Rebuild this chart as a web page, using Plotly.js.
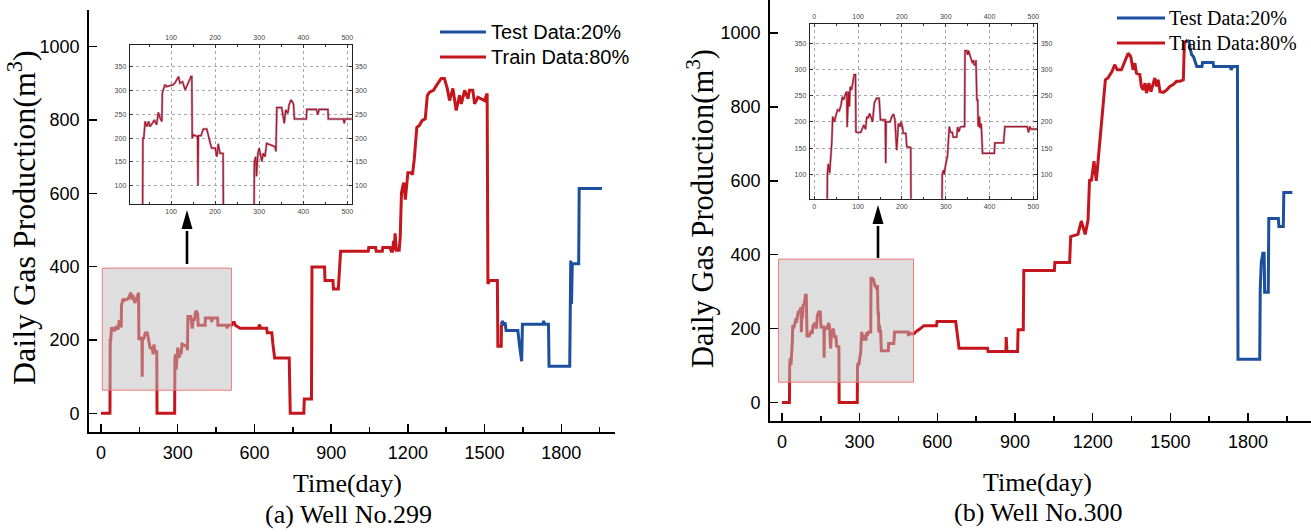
<!DOCTYPE html>
<html>
<head>
<meta charset="utf-8">
<script src="https://cdn.plot.ly/plotly-3.0.1.min.js"></script>
<style>html,body{margin:0;padding:0;background:#fff;}#chart{width:1311px;height:532px;}</style>
</head>
<body>
<div id="chart"></div>
<script>
// ---------- DATA ----------
// Well No.299
const d299Train = [0,35,36,38,41,45,49,52,58,62,67,71,75,79,80,86,90,98,105,109,117,120,126,132,138,145,147,148,151,158,160,161,162,168,173,181,185,189,192,200,204,207,211,215,218,219,288,289,292,294,297,300,303,306,309,313,317,325,336,338,340,351,353,357,360,365,368,372,376,378,380,407,408,430,433,436,456,457,491,493,495,510,517,521,525,544,615,620,624,648,650,668,672,679,736,738,740,793,795,823,825,874,876,907,909,928,937,1045,1047,1074,1076,1100,1102,1130,1135,1140,1144,1147,1150,1155,1166,1170,1175,1180,1184,1190,1195,1200,1213,1218,1225,1235,1245,1255,1268,1276,1285,1300,1317,1330,1343,1354,1363,1376,1389,1402,1409,1422,1435,1441,1454,1461,1474,1487,1500,1510,1513,1520,1550,1552,1565,1566];
const v299Train = [0,0,200,200,235,224,235,224,232,238,228,254,242,235,294,312,308,310,312,316,329,315,318,301,315,329,329,200,207,203,203,100,205,205,219,219,200,189,179,179,161,188,168,168,168,0,0,151,161,120,168,179,167,151,168,161,189,186,182,172,264,264,249,231,259,252,270,280,275,270,240,240,260,260,249,260,260,240,240,231,240,240,248,248,240,232,232,242,232,232,220,220,190,151,151,80,0,0,39,39,399,399,362,362,339,339,442,442,452,452,442,442,452,452,442,442,470,445,491,445,445,480,601,620,629,583,620,656,656,651,693,780,785,798,803,867,876,881,900,913,913,886,853,886,826,867,844,881,858,881,881,844,862,858,853,872,353,362,362,183,183,243];
const d299Test = [1566,1570,1575,1580,1584,1630,1637,1645,1648,1728,1731,1735,1750,1752,1833,1835,1837,1840,1843,1868,1870,1959];
const v299Test = [243,252,239,248,226,226,183,142,243,243,252,243,243,128,128,243,417,298,408,408,613,613];

// Well No.300
const d300Train = [0,29,30,32,35,37,40,42,46,49,53,57,61,64,67,70,73,74,75,78,80,82,85,88,91,94,95,97,106,108,113,117,120,123,126,129,133,137,142,148,151,162,163,164,173,177,181,184,188,192,196,198,201,203,209,211,217,220,221,291,292,295,297,298,302,304,308,311,315,317,325,327,330,333,336,343,344,348,350,352,355,358,361,363,365,368,369,371,373,374,377,378,381,384,411,412,432,434,435,486,489,492,495,510,520,535,548,597,599,671,678,684,794,796,865,866,869,910,912,932,934,1052,1054,1111,1115,1143,1156,1162,1171,1182,1188,1195,1205,1214,1221,1227,1240,1249,1259,1266,1275,1285,1295,1311,1324,1337,1347,1356,1363,1369,1382,1388,1395,1402,1408,1417,1425,1434,1440,1447,1453,1460,1473,1486,1498,1511,1524,1537,1550,1554,1560,1567];
const v300Train = [0,0,102,120,102,120,162,210,200,211,223,221,232,248,242,251,258,258,190,258,229,267,261,277,290,290,181,180,180,184,194,186,210,207,216,210,200,236,245,245,204,204,121,200,200,210,215,204,146,197,191,200,191,178,178,153,151,151,0,0,100,108,100,110,127,134,191,180,180,171,171,190,181,190,191,191,336,336,328,336,328,318,312,318,309,309,318,242,242,191,210,188,197,140,140,160,160,180,191,191,180,191,186,186,193,200,208,208,219,219,180,147,147,138,138,177,138,138,197,197,357,357,379,379,449,455,491,478,455,493,604,599,653,600,653,720,819,873,878,887,896,914,900,900,923,945,936,900,918,891,887,855,846,864,837,864,841,860,878,855,873,841,839,846,855,860,869,869,873,972,977,981];
const d300Test = [1567,1572,1576,1582,1589,1595,1602,1622,1624,1665,1667,1731,1735,1740,1759,1761,1845,1847,1851,1857,1862,1864,1878,1880,1917,1919,1936,1938,1971];
const v300Test = [981,977,959,941,936,923,909,909,920,920,909,909,900,909,909,117,117,307,379,404,404,298,298,498,498,476,476,568,568];

// Tick labels
const mainXTicks = [0,300,600,900,1200,1500,1800];
const mainYTicks = [0,200,400,600,800,1000];
const inset299XTicks = [100,200,300,400,500];
const inset300XTicks = [0,100,200,300,400,500];
const insetYTicks = [100,150,200,250,300,350];

const legendLabels = ['Test Data:20%','Train Data:80%'];
const yTitle = 'Daily Gas Production(m<sup>3</sup>)';
const xTitle = 'Time(day)';
const subTitles = ['(a) Well No.299','(b) Well No.300'];

// ---------- STYLE / LAYOUT ----------
const W = 1311, H = 532;
const PX = x => x / W;
const PY = y => 1 - y / H;
const RED = '#c4161c', BLUE = '#1c4f9e', INRED = '#b8121e';
const SANS = 'Liberation Sans, Arial, sans-serif';
const SERIF = 'Liberation Serif, Times New Roman, serif';

function mainTrace(x, y, color, xa, ya) {
  return {x, y, type:'scatter', mode:'lines', xaxis:xa, yaxis:ya,
          line:{color, width:3}, hoverinfo:'skip'};
}
function insetTraces(x, y, xa, ya) {
  return [
    {x, y, type:'scatter', mode:'lines', xaxis:xa, yaxis:ya,
     line:{color:'rgba(105,80,135,0.55)', width:2.4}, hoverinfo:'skip'},
    {x, y, type:'scatter', mode:'lines', xaxis:xa, yaxis:ya,
     line:{color:INRED, width:1.2}, hoverinfo:'skip'}
  ];
}
const dummy = (xa, ya) => ({x:[], y:[], type:'scatter', mode:'lines', xaxis:xa, yaxis:ya, hoverinfo:'skip'});

const data = [
  mainTrace(d299Train, v299Train, RED, 'x', 'y'),
  mainTrace(d299Test, v299Test, BLUE, 'x', 'y'),
  mainTrace(d300Train, v300Train, RED, 'x2', 'y2'),
  mainTrace(d300Test, v300Test, BLUE, 'x2', 'y2'),
  ...insetTraces(d299Train, v299Train, 'x3', 'y3'),
  ...insetTraces(d300Train, v300Train, 'x5', 'y5'),
  dummy('x4','y3'), dummy('x3','y4'), dummy('x6','y5'), dummy('x5','y6')
];

const mainTickFont = {family:SANS, size:18, color:'#000'};
function mainX(domain, range, anchor) {
  return {domain, range, anchor, tickmode:'array', tickvals:mainXTicks, ticktext:mainXTicks.map(String),
    ticks:'inside', ticklen:8, tickwidth:1.5, tickcolor:'#000',
    showline:true, linecolor:'#000', linewidth:1.8, showgrid:false, zeroline:false,
    tickfont:mainTickFont, ticklabelstandoff:4,
    minor:{dtick:150, tick0:0, ticks:'inside', ticklen:5, tickwidth:1.5, tickcolor:'#000', showgrid:false}};
}
function mainY(domain, range, anchor) {
  return {domain, range, anchor, tickmode:'array', tickvals:mainYTicks, ticktext:mainYTicks.map(String),
    ticks:'inside', ticklen:8, tickwidth:1.5, tickcolor:'#000',
    showline:true, linecolor:'#000', linewidth:1.8, showgrid:false, zeroline:false,
    tickfont:mainTickFont, ticklabelstandoff:4};
}
const inFont = {family:SANS, size:7, color:'#444'};
function inX(domain, range, anchor, ticks, extra) {
  return Object.assign({domain, range, anchor, tickmode:'array', tickvals:ticks, ticktext:ticks.map(String),
    ticks:'inside', ticklen:3, tickwidth:1, tickcolor:'#333',
    showline:true, linecolor:'#222', linewidth:1, zeroline:false,
    showgrid:true, gridcolor:'#a8a8a8', griddash:'dot', gridwidth:1,
    tickfont:inFont, ticklabelstandoff:1,
    minor:{dtick:50, tick0:0, ticks:'inside', ticklen:2, tickwidth:1, tickcolor:'#333', showgrid:false}}, extra||{});
}
function inY(domain, range, anchor, extra) {
  return Object.assign({domain, range, anchor, tickmode:'array', tickvals:insetYTicks, ticktext:insetYTicks.map(String),
    ticks:'inside', ticklen:3, tickwidth:1, tickcolor:'#333',
    showline:true, linecolor:'#222', linewidth:1, zeroline:false,
    showgrid:true, gridcolor:'#a8a8a8', griddash:'dot', gridwidth:1,
    tickfont:inFont, ticklabelstandoff:1}, extra||{});
}

const in1X = [PX(129.7), PX(351.7)], in1Y = [PY(204), PY(45)];
const in2X = [PX(809.7), PX(1037.3)], in2Y = [PY(198.7), PY(24)];
const in1XR = [6, 510], in1YR = [62, 395];
const in2XR = [-10.5, 509], in2YR = [53.4, 386.8];

const shapes = [];
const annotations = [];

// zoom rectangles
shapes.push({type:'rect', xref:'x', yref:'y', x0:5, x1:510, y0:63, y1:396, layer:'above',
  fillcolor:'rgba(190,190,190,0.5)', line:{color:'rgba(238,110,110,0.9)', width:1}});
shapes.push({type:'rect', xref:'x2', yref:'y2', x0:-13, x1:508, y0:55, y1:388, layer:'above',
  fillcolor:'rgba(190,190,190,0.5)', line:{color:'rgba(238,110,110,0.9)', width:1}});

// arrows
function arrow(x, tail, base, tip) {
  shapes.push({type:'line', xref:'paper', yref:'paper', x0:PX(x), x1:PX(x), y0:PY(tail), y1:PY(base+2),
    line:{color:'#000', width:2.6}});
  shapes.push({type:'path', xref:'paper', yref:'paper',
    path:`M ${PX(x-5.5)},${PY(base)} L ${PX(x)},${PY(tip)} L ${PX(x+5.5)},${PY(base)} Z`,
    fillcolor:'#000', line:{width:0}});
}
arrow(187, 264, 229, 210);
arrow(878, 258, 224, 205);

// legends
function legend(x0, x1, yTest, yTrain, tx, font) {
  shapes.push({type:'line', xref:'paper', yref:'paper', x0:PX(x0), x1:PX(x1), y0:PY(yTest), y1:PY(yTest), line:{color:BLUE, width:3}});
  shapes.push({type:'line', xref:'paper', yref:'paper', x0:PX(x0), x1:PX(x1), y0:PY(yTrain), y1:PY(yTrain), line:{color:RED, width:3}});
  annotations.push({xref:'paper', yref:'paper', x:PX(tx), y:PY(yTest), text:legendLabels[0], showarrow:false, xanchor:'left', yanchor:'middle', font});
  annotations.push({xref:'paper', yref:'paper', x:PX(tx), y:PY(yTrain), text:legendLabels[1], showarrow:false, xanchor:'left', yanchor:'middle', font});
}
legend(440, 486, 32, 57, 489, {family:SANS, size:20, color:'#000'});
legend(1117, 1165, 18, 43, 1167, {family:SERIF, size:20, color:'#000'});

// titles
function txt(x, y, text, size, angle) {
  annotations.push({xref:'paper', yref:'paper', x:PX(x), y:PY(y), text, showarrow:false,
    xanchor:'center', yanchor:'middle', textangle:angle||0, font:{family:SERIF, size, color:'#000'}});
}
txt(22, 218, yTitle, 32, -90);
txt(701, 209, yTitle, 30.5, -90);
txt(348, 483, xTitle, 26);
txt(1037, 482, xTitle, 26);
txt(349, 514, subTitles[0], 26);
txt(1038, 512, subTitles[1], 26);

const layout = {
  width:W, height:H, margin:{l:0, r:0, t:0, b:0},
  paper_bgcolor:'#fff', plot_bgcolor:'rgba(0,0,0,0)', showlegend:false,
  xaxis: mainX([PX(89), PX(615)], [-47, 2010], 'y'),
  yaxis: mainY([PY(432), PY(10)], [-51, 1100], 'x'),
  xaxis2: mainX([PX(770), 1], [-46, 2043], 'y2'),
  yaxis2: mainY([PY(421), 1], [-50, 1089], 'x2'),
  xaxis3: inX(in1X, in1XR, 'y3', inset299XTicks),
  xaxis4: inX(in1X, in1XR, 'y3', inset299XTicks, {overlaying:'x3', side:'top', showgrid:false}),
  yaxis3: inY(in1Y, in1YR, 'x3'),
  yaxis4: inY(in1Y, in1YR, 'x3', {overlaying:'y3', side:'right', showgrid:false}),
  xaxis5: inX(in2X, in2XR, 'y5', inset300XTicks),
  xaxis6: inX(in2X, in2XR, 'y5', inset300XTicks, {overlaying:'x5', side:'top', showgrid:false}),
  yaxis5: inY(in2Y, in2YR, 'x5'),
  yaxis6: inY(in2Y, in2YR, 'x5', {overlaying:'y5', side:'right', showgrid:false}),
  shapes, annotations
};

Plotly.newPlot('chart', data, layout, {staticPlot:true, displayModeBar:false});
</script>
</body>
</html>
